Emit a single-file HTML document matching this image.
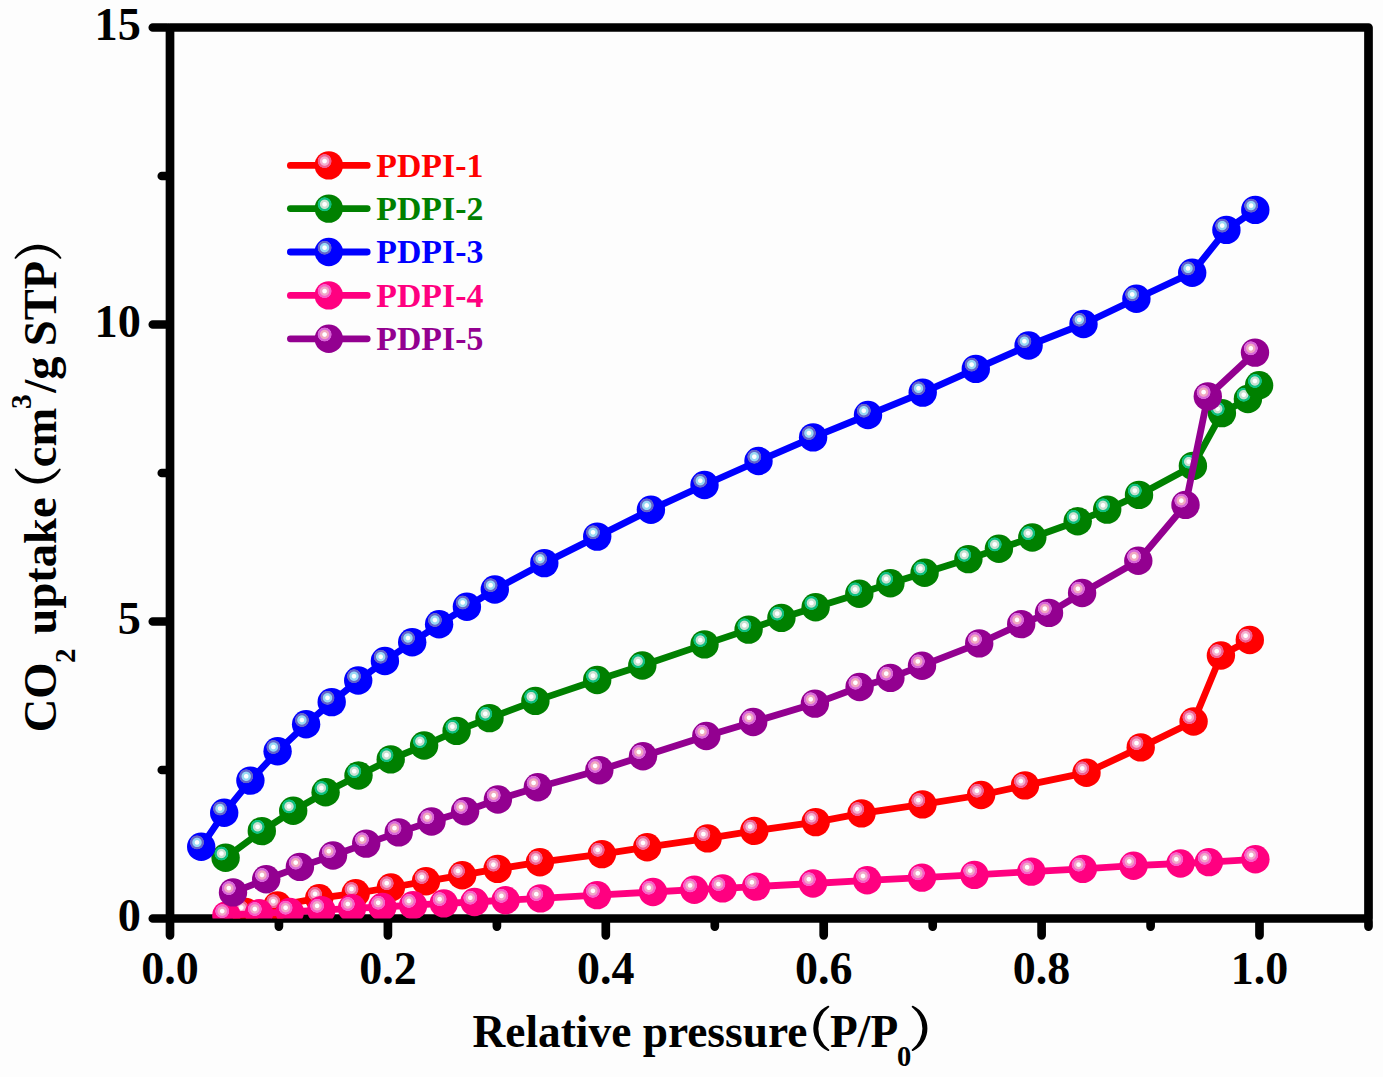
<!DOCTYPE html><html><head><meta charset="utf-8"><style>html,body{margin:0;padding:0;background:#fdfdfd;}svg{display:block;}</style></head><body>
<svg width="1383" height="1077" viewBox="0 0 1383 1077">
<defs>
<clipPath id="plot"><rect x="170.0" y="27.5" width="1198.5" height="891.0"/></clipPath>
<radialGradient id="hr" cx="0.5" cy="0.5" r="0.5"><stop offset="0" stop-color="#ffffff"/><stop offset="0.25" stop-color="#ffffff"/><stop offset="0.38" stop-color="#f4b0d0"/><stop offset="0.58" stop-color="#f4b0d0"/><stop offset="0.70" stop-color="#f06090"/><stop offset="0.92" stop-color="#f06090"/><stop offset="1" stop-color="#f06090" stop-opacity="0"/></radialGradient>
<g id="kr"><circle r="14.2" fill="#ff0000"/><circle cx="-4.2" cy="-4.3" r="7.3" fill="url(#hr)"/></g>
<radialGradient id="hg" cx="0.5" cy="0.5" r="0.5"><stop offset="0" stop-color="#ffffff"/><stop offset="0.25" stop-color="#ffffff"/><stop offset="0.38" stop-color="#c8e0d0"/><stop offset="0.58" stop-color="#c8e0d0"/><stop offset="0.70" stop-color="#10c080"/><stop offset="0.92" stop-color="#10c080"/><stop offset="1" stop-color="#10c080" stop-opacity="0"/></radialGradient>
<g id="kg"><circle r="14.2" fill="#008000"/><circle cx="-4.2" cy="-4.3" r="7.3" fill="url(#hg)"/></g>
<radialGradient id="hb" cx="0.5" cy="0.5" r="0.5"><stop offset="0" stop-color="#ffffff"/><stop offset="0.25" stop-color="#ffffff"/><stop offset="0.38" stop-color="#98d8f4"/><stop offset="0.58" stop-color="#98d8f4"/><stop offset="0.70" stop-color="#6464cc"/><stop offset="0.92" stop-color="#6464cc"/><stop offset="1" stop-color="#6464cc" stop-opacity="0"/></radialGradient>
<g id="kb"><circle r="14.2" fill="#0000ff"/><circle cx="-4.2" cy="-4.3" r="7.3" fill="url(#hb)"/></g>
<radialGradient id="hp" cx="0.5" cy="0.5" r="0.5"><stop offset="0" stop-color="#ffffff"/><stop offset="0.25" stop-color="#ffffff"/><stop offset="0.38" stop-color="#f0a8c8"/><stop offset="0.58" stop-color="#f0a8c8"/><stop offset="0.70" stop-color="#f860c8"/><stop offset="0.92" stop-color="#f860c8"/><stop offset="1" stop-color="#f860c8" stop-opacity="0"/></radialGradient>
<g id="kp"><circle r="14.2" fill="#ff0080"/><circle cx="-4.2" cy="-4.3" r="7.3" fill="url(#hp)"/></g>
<radialGradient id="hm" cx="0.5" cy="0.5" r="0.5"><stop offset="0" stop-color="#ffffff"/><stop offset="0.25" stop-color="#ffffff"/><stop offset="0.38" stop-color="#f0a8c0"/><stop offset="0.58" stop-color="#f0a8c0"/><stop offset="0.70" stop-color="#d868d8"/><stop offset="0.92" stop-color="#d868d8"/><stop offset="1" stop-color="#d868d8" stop-opacity="0"/></radialGradient>
<g id="km"><circle r="14.2" fill="#930090"/><circle cx="-4.2" cy="-4.3" r="7.3" fill="url(#hm)"/></g>
</defs>
<rect width="100%" height="100%" fill="#fdfdfd"/>
<rect x="170.0" y="27.5" width="1198.5" height="891.0" fill="none" stroke="#000" stroke-width="8.7" stroke-linejoin="round"/>
<path d="M167.0 918.5H152.8 M167.0 621.5H152.8 M167.0 324.5H152.8 M167.0 27.5H152.8 M167.0 770.0H161.8 M167.0 473.0H161.8 M167.0 176.0H161.8 M170.0 921.5V935.3 M387.9 921.5V935.3 M605.8 921.5V935.3 M823.7 921.5V935.3 M1041.6 921.5V935.3 M1259.5 921.5V935.3 M278.9 921.5V926.6 M496.9 921.5V926.6 M714.8 921.5V926.6 M932.7 921.5V926.6 M1150.6 921.5V926.6 M1368.5 921.5V926.6" stroke="#000" stroke-width="8.7" stroke-linecap="round" fill="none"/>
<g clip-path="url(#plot)">
<polyline points="245.5,911.9 277.5,905.5 319.2,898.2 355.7,893.3 390.9,887.5 426.0,881.3 462.2,875.2 497.6,868.9 539.9,862.2 601.9,854.1 647.2,847.2 707.6,838.4 754.3,830.9 815.7,822.1 861.5,813.4 922.5,804.4 981.1,795.0 1025.0,785.4 1086.5,772.7 1140.7,747.4 1193.6,721.5 1220.9,655.5 1249.8,640.0" fill="none" stroke="#ff0000" stroke-width="6.8" stroke-linejoin="round" stroke-linecap="round"/>
<use href="#kr" x="245.5" y="911.9"/>
<use href="#kr" x="277.5" y="905.5"/>
<use href="#kr" x="319.2" y="898.2"/>
<use href="#kr" x="355.7" y="893.3"/>
<use href="#kr" x="390.9" y="887.5"/>
<use href="#kr" x="426.0" y="881.3"/>
<use href="#kr" x="462.2" y="875.2"/>
<use href="#kr" x="497.6" y="868.9"/>
<use href="#kr" x="539.9" y="862.2"/>
<use href="#kr" x="601.9" y="854.1"/>
<use href="#kr" x="647.2" y="847.2"/>
<use href="#kr" x="707.6" y="838.4"/>
<use href="#kr" x="754.3" y="830.9"/>
<use href="#kr" x="815.7" y="822.1"/>
<use href="#kr" x="861.5" y="813.4"/>
<use href="#kr" x="922.5" y="804.4"/>
<use href="#kr" x="981.1" y="795.0"/>
<use href="#kr" x="1025.0" y="785.4"/>
<use href="#kr" x="1086.5" y="772.7"/>
<use href="#kr" x="1140.7" y="747.4"/>
<use href="#kr" x="1193.6" y="721.5"/>
<use href="#kr" x="1220.9" y="655.5"/>
<use href="#kr" x="1249.8" y="640.0"/>
<polyline points="225.6,857.8 261.8,831.1 293.2,810.7 325.6,792.3 358.5,775.5 390.7,759.4 424.1,745.5 456.6,730.9 489.5,718.1 535.4,700.9 597.2,680.0 642.3,665.5 704.5,644.4 748.6,629.6 781.4,617.9 815.6,607.3 859.3,593.7 890.4,583.2 924.6,572.8 968.4,559.1 998.9,548.7 1032.3,537.5 1077.7,521.2 1107.2,509.6 1139.0,494.9 1192.9,465.9 1221.9,413.1 1247.9,399.0 1259.1,385.3" fill="none" stroke="#008000" stroke-width="6.8" stroke-linejoin="round" stroke-linecap="round"/>
<use href="#kg" x="225.6" y="857.8"/>
<use href="#kg" x="261.8" y="831.1"/>
<use href="#kg" x="293.2" y="810.7"/>
<use href="#kg" x="325.6" y="792.3"/>
<use href="#kg" x="358.5" y="775.5"/>
<use href="#kg" x="390.7" y="759.4"/>
<use href="#kg" x="424.1" y="745.5"/>
<use href="#kg" x="456.6" y="730.9"/>
<use href="#kg" x="489.5" y="718.1"/>
<use href="#kg" x="535.4" y="700.9"/>
<use href="#kg" x="597.2" y="680.0"/>
<use href="#kg" x="642.3" y="665.5"/>
<use href="#kg" x="704.5" y="644.4"/>
<use href="#kg" x="748.6" y="629.6"/>
<use href="#kg" x="781.4" y="617.9"/>
<use href="#kg" x="815.6" y="607.3"/>
<use href="#kg" x="859.3" y="593.7"/>
<use href="#kg" x="890.4" y="583.2"/>
<use href="#kg" x="924.6" y="572.8"/>
<use href="#kg" x="968.4" y="559.1"/>
<use href="#kg" x="998.9" y="548.7"/>
<use href="#kg" x="1032.3" y="537.5"/>
<use href="#kg" x="1077.7" y="521.2"/>
<use href="#kg" x="1107.2" y="509.6"/>
<use href="#kg" x="1139.0" y="494.9"/>
<use href="#kg" x="1192.9" y="465.9"/>
<use href="#kg" x="1221.9" y="413.1"/>
<use href="#kg" x="1247.9" y="399.0"/>
<use href="#kg" x="1259.1" y="385.3"/>
<polyline points="201.2,846.7 224.2,812.8 250.4,780.6 277.6,751.3 306.1,724.3 331.7,702.1 358.2,680.5 384.9,661.0 412.2,642.3 439.1,624.3 466.9,606.8 494.8,589.5 544.3,563.1 597.2,536.6 650.9,509.7 704.5,485.0 758.5,461.0 813.1,437.4 868.0,415.0 922.7,392.6 975.8,368.9 1028.6,345.5 1083.5,324.0 1136.4,298.7 1192.2,272.7 1226.4,229.9 1255.3,209.9" fill="none" stroke="#0000ff" stroke-width="6.8" stroke-linejoin="round" stroke-linecap="round"/>
<use href="#kb" x="201.2" y="846.7"/>
<use href="#kb" x="224.2" y="812.8"/>
<use href="#kb" x="250.4" y="780.6"/>
<use href="#kb" x="277.6" y="751.3"/>
<use href="#kb" x="306.1" y="724.3"/>
<use href="#kb" x="331.7" y="702.1"/>
<use href="#kb" x="358.2" y="680.5"/>
<use href="#kb" x="384.9" y="661.0"/>
<use href="#kb" x="412.2" y="642.3"/>
<use href="#kb" x="439.1" y="624.3"/>
<use href="#kb" x="466.9" y="606.8"/>
<use href="#kb" x="494.8" y="589.5"/>
<use href="#kb" x="544.3" y="563.1"/>
<use href="#kb" x="597.2" y="536.6"/>
<use href="#kb" x="650.9" y="509.7"/>
<use href="#kb" x="704.5" y="485.0"/>
<use href="#kb" x="758.5" y="461.0"/>
<use href="#kb" x="813.1" y="437.4"/>
<use href="#kb" x="868.0" y="415.0"/>
<use href="#kb" x="922.7" y="392.6"/>
<use href="#kb" x="975.8" y="368.9"/>
<use href="#kb" x="1028.6" y="345.5"/>
<use href="#kb" x="1083.5" y="324.0"/>
<use href="#kb" x="1136.4" y="298.7"/>
<use href="#kb" x="1192.2" y="272.7"/>
<use href="#kb" x="1226.4" y="229.9"/>
<use href="#kb" x="1255.3" y="209.9"/>
<polyline points="226.4,915.4 259.0,913.3 289.8,912.0 321.3,910.1 352.0,908.3 382.4,907.0 413.1,905.2 443.8,903.4 474.5,902.0 505.6,900.2 540.5,898.4 597.1,895.1 653.0,892.0 694.3,889.7 722.6,888.4 756.1,886.6 813.0,883.5 867.2,880.3 922.0,877.6 974.4,874.9 1031.3,871.6 1082.8,868.9 1133.5,865.7 1180.5,863.5 1208.9,862.1 1255.4,859.3" fill="none" stroke="#ff0080" stroke-width="6.8" stroke-linejoin="round" stroke-linecap="round"/>
<use href="#kp" x="226.4" y="915.4"/>
<use href="#kp" x="259.0" y="913.3"/>
<use href="#kp" x="289.8" y="912.0"/>
<use href="#kp" x="321.3" y="910.1"/>
<use href="#kp" x="352.0" y="908.3"/>
<use href="#kp" x="382.4" y="907.0"/>
<use href="#kp" x="413.1" y="905.2"/>
<use href="#kp" x="443.8" y="903.4"/>
<use href="#kp" x="474.5" y="902.0"/>
<use href="#kp" x="505.6" y="900.2"/>
<use href="#kp" x="540.5" y="898.4"/>
<use href="#kp" x="597.1" y="895.1"/>
<use href="#kp" x="653.0" y="892.0"/>
<use href="#kp" x="694.3" y="889.7"/>
<use href="#kp" x="722.6" y="888.4"/>
<use href="#kp" x="756.1" y="886.6"/>
<use href="#kp" x="813.0" y="883.5"/>
<use href="#kp" x="867.2" y="880.3"/>
<use href="#kp" x="922.0" y="877.6"/>
<use href="#kp" x="974.4" y="874.9"/>
<use href="#kp" x="1031.3" y="871.6"/>
<use href="#kp" x="1082.8" y="868.9"/>
<use href="#kp" x="1133.5" y="865.7"/>
<use href="#kp" x="1180.5" y="863.5"/>
<use href="#kp" x="1208.9" y="862.1"/>
<use href="#kp" x="1255.4" y="859.3"/>
<polyline points="233.0,892.4 266.2,879.3 299.9,866.9 333.0,855.5 366.2,843.6 398.7,832.4 431.5,821.5 465.1,811.2 497.9,799.5 537.8,787.2 599.3,770.2 643.0,756.3 706.3,736.0 753.2,722.0 814.9,703.6 859.6,687.0 890.4,677.9 922.0,665.7 979.2,643.4 1021.2,624.1 1049.0,612.9 1082.1,593.0 1138.3,560.7 1185.5,504.9 1207.8,396.4 1255.0,352.6" fill="none" stroke="#930090" stroke-width="6.8" stroke-linejoin="round" stroke-linecap="round"/>
<use href="#km" x="233.0" y="892.4"/>
<use href="#km" x="266.2" y="879.3"/>
<use href="#km" x="299.9" y="866.9"/>
<use href="#km" x="333.0" y="855.5"/>
<use href="#km" x="366.2" y="843.6"/>
<use href="#km" x="398.7" y="832.4"/>
<use href="#km" x="431.5" y="821.5"/>
<use href="#km" x="465.1" y="811.2"/>
<use href="#km" x="497.9" y="799.5"/>
<use href="#km" x="537.8" y="787.2"/>
<use href="#km" x="599.3" y="770.2"/>
<use href="#km" x="643.0" y="756.3"/>
<use href="#km" x="706.3" y="736.0"/>
<use href="#km" x="753.2" y="722.0"/>
<use href="#km" x="814.9" y="703.6"/>
<use href="#km" x="859.6" y="687.0"/>
<use href="#km" x="890.4" y="677.9"/>
<use href="#km" x="922.0" y="665.7"/>
<use href="#km" x="979.2" y="643.4"/>
<use href="#km" x="1021.2" y="624.1"/>
<use href="#km" x="1049.0" y="612.9"/>
<use href="#km" x="1082.1" y="593.0"/>
<use href="#km" x="1138.3" y="560.7"/>
<use href="#km" x="1185.5" y="504.9"/>
<use href="#km" x="1207.8" y="396.4"/>
<use href="#km" x="1255.0" y="352.6"/>
</g>
<text x="140.8" y="931.1" font-family="Liberation Serif" font-weight="bold" font-size="46.3" text-anchor="end">0</text>
<text x="140.8" y="634.1" font-family="Liberation Serif" font-weight="bold" font-size="46.3" text-anchor="end">5</text>
<text x="140.8" y="337.1" font-family="Liberation Serif" font-weight="bold" font-size="46.3" text-anchor="end">10</text>
<text x="140.8" y="40.1" font-family="Liberation Serif" font-weight="bold" font-size="46.3" text-anchor="end">15</text>
<text x="170.0" y="984" font-family="Liberation Serif" font-weight="bold" font-size="46" text-anchor="middle">0.0</text>
<text x="387.9" y="984" font-family="Liberation Serif" font-weight="bold" font-size="46" text-anchor="middle">0.2</text>
<text x="605.8" y="984" font-family="Liberation Serif" font-weight="bold" font-size="46" text-anchor="middle">0.4</text>
<text x="823.7" y="984" font-family="Liberation Serif" font-weight="bold" font-size="46" text-anchor="middle">0.6</text>
<text x="1041.6" y="984" font-family="Liberation Serif" font-weight="bold" font-size="46" text-anchor="middle">0.8</text>
<text x="1259.5" y="984" font-family="Liberation Serif" font-weight="bold" font-size="46" text-anchor="middle">1.0</text>
<text x="472.5" y="1047" font-family="Liberation Serif" font-weight="bold" font-size="45.4">Relative pressure</text>
<text x="830.1" y="1047" font-family="Liberation Serif" font-weight="bold" font-size="45.4">P/P</text>
<text x="897" y="1065.6" font-family="Liberation Serif" font-weight="bold" font-size="28.5">0</text>
<path d="M828.00 1005.80 A24.72 24.72 0 0 0 828.00 1051.00 A0.90 0.90 0 0 0 828.73 1049.35 A26.26 26.26 0 0 1 828.73 1007.45 A0.90 0.90 0 0 0 828.00 1005.80 Z" fill="#000"/>
<path d="M913.00 1005.80 A24.93 24.93 0 0 1 913.00 1051.00 A0.90 0.90 0 0 1 912.24 1049.37 A26.72 26.72 0 0 0 912.24 1007.43 A0.90 0.90 0 0 1 913.00 1005.80 Z" fill="#000"/>
<text transform="rotate(-90)" x="-732.3" y="56.0" font-family="Liberation Serif" font-weight="bold" font-size="46.5">CO</text>
<text transform="rotate(-90)" x="-662.9" y="74.5" font-family="Liberation Serif" font-weight="bold" font-size="29">2</text>
<text transform="rotate(-90)" x="-634.4" y="56.0" font-family="Liberation Serif" font-weight="bold" font-size="46.5">uptake</text>
<text transform="rotate(-90)" x="-467.2" y="56.0" font-family="Liberation Serif" font-weight="bold" font-size="46.5">cm</text>
<text transform="rotate(-90)" x="-408.9" y="30.9" font-family="Liberation Serif" font-weight="bold" font-size="29.5">3</text>
<text transform="rotate(-90)" x="-392.7" y="56.0" font-family="Liberation Serif" font-weight="bold" font-size="46.5">/g</text>
<text transform="rotate(-90)" x="-346.2" y="56.0" font-family="Liberation Serif" font-weight="bold" font-size="46.5">STP</text>
<path d="M14.90 469.90 A26.09 26.09 0 0 0 60.60 469.90 A0.90 0.90 0 0 0 59.02 469.03 A27.68 27.68 0 0 1 16.48 469.03 A0.90 0.90 0 0 0 14.90 469.90 Z" fill="#000"/>
<path d="M14.70 257.40 A27.75 27.75 0 0 1 61.20 257.40 A0.90 0.90 0 0 1 59.69 258.38 A30.33 30.33 0 0 0 16.21 258.38 A0.90 0.90 0 0 1 14.70 257.40 Z" fill="#000"/>
<line x1="290.4" y1="165.4" x2="367.2" y2="165.4" stroke="#ff0000" stroke-width="6.8" stroke-linecap="round"/>
<use href="#kr" x="328.8" y="165.4"/>
<text x="376.3" y="176.6" font-family="Liberation Serif" font-weight="bold" font-size="33.8" fill="#ff0000">PDPI-1</text>
<line x1="290.4" y1="208.6" x2="367.2" y2="208.6" stroke="#008000" stroke-width="6.8" stroke-linecap="round"/>
<use href="#kg" x="328.8" y="208.6"/>
<text x="376.3" y="219.8" font-family="Liberation Serif" font-weight="bold" font-size="33.8" fill="#008000">PDPI-2</text>
<line x1="290.4" y1="252.0" x2="367.2" y2="252.0" stroke="#0000ff" stroke-width="6.8" stroke-linecap="round"/>
<use href="#kb" x="328.8" y="252.0"/>
<text x="376.3" y="263.2" font-family="Liberation Serif" font-weight="bold" font-size="33.8" fill="#0000ff">PDPI-3</text>
<line x1="290.4" y1="295.4" x2="367.2" y2="295.4" stroke="#ff0080" stroke-width="6.8" stroke-linecap="round"/>
<use href="#kp" x="328.8" y="295.4"/>
<text x="376.3" y="306.6" font-family="Liberation Serif" font-weight="bold" font-size="33.8" fill="#ff0080">PDPI-4</text>
<line x1="290.4" y1="338.8" x2="367.2" y2="338.8" stroke="#930090" stroke-width="6.8" stroke-linecap="round"/>
<use href="#km" x="328.8" y="338.8"/>
<text x="376.3" y="350.0" font-family="Liberation Serif" font-weight="bold" font-size="33.8" fill="#930090">PDPI-5</text>
</svg></body></html>
